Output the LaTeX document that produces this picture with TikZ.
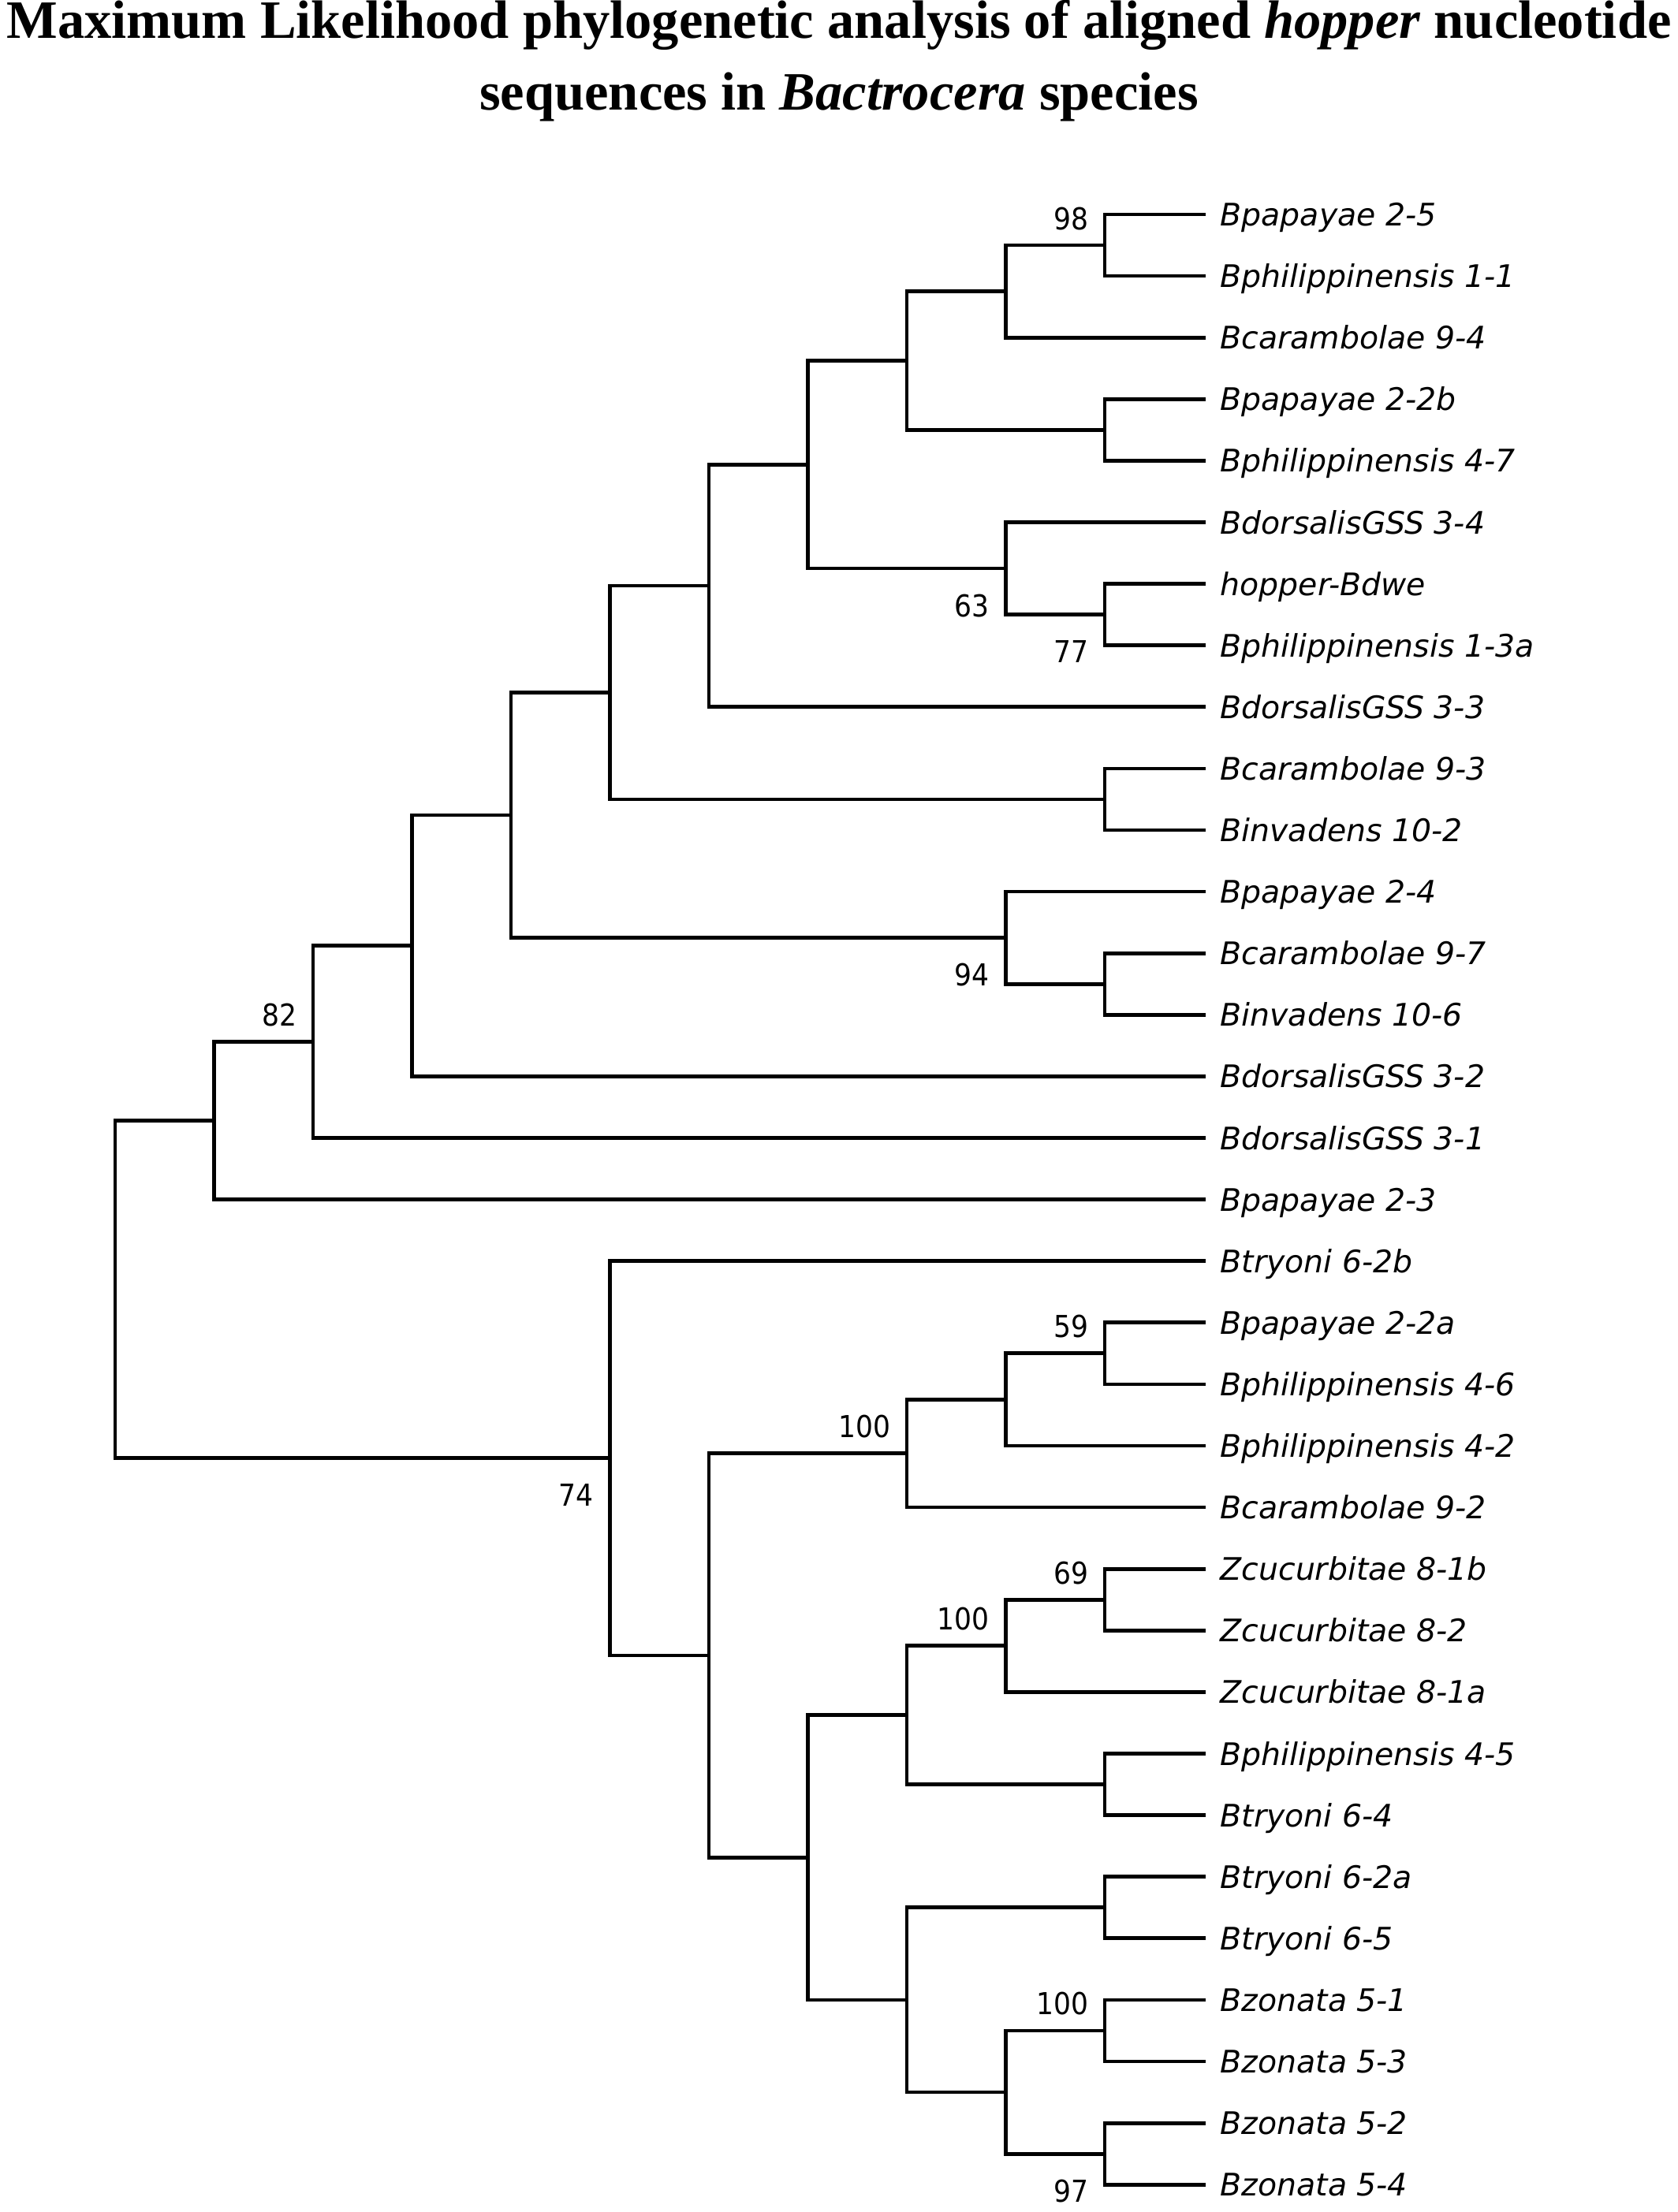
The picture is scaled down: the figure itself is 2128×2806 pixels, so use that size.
\documentclass[tikz,border=0pt]{standalone}
\usepackage{fontspec}
\setmainfont{Liberation Serif}
\newfontfamily\taxfont{DejaVu Sans}
\newfontfamily\bootfont[FakeStretch=0.9]{DejaVu Sans}
\usetikzlibrary{calc}

\begin{document}
\begin{tikzpicture}[x=0.01cm,y=-0.01cm,
    branch/.style={line width=1.35pt},
    taxon/.style={font=\taxfont\itshape\fontsize{11.2}{13}\selectfont,anchor=base west,inner sep=0pt},
    boot/.style={font=\bootfont\fontsize{10.9}{13}\selectfont,anchor=base east,inner sep=0pt},
    heading/.style={font=\bfseries\fontsize{19.48}{24}\selectfont,anchor=base,inner sep=0pt}]
  \useasboundingbox (0,0) rectangle (2128,2806);
  \node[heading] (head1) at (1064,49) {Maximum Likelihood phylogenetic analysis of aligned \textit{hopper} nucleotide};
  \node[heading] (head2) at (1064,140) {sequences in \textit{Bactrocera} species};

  % tips and taxon names
  \foreach \lab [count=\i] in {
    Bpapayae 2-5, Bphilippinensis 1-1, Bcarambolae 9-4, Bpapayae 2-2b,
    Bphilippinensis 4-7, BdorsalisGSS 3-4, hopper-Bdwe, Bphilippinensis 1-3a,
    BdorsalisGSS 3-3, Bcarambolae 9-3, Binvadens 10-2, Bpapayae 2-4,
    Bcarambolae 9-7, Binvadens 10-6, BdorsalisGSS 3-2, BdorsalisGSS 3-1,
    Bpapayae 2-3, Btryoni 6-2b, Bpapayae 2-2a, Bphilippinensis 4-6,
    Bphilippinensis 4-2, Bcarambolae 9-2, Zcucurbitae 8-1b, Zcucurbitae 8-2,
    Zcucurbitae 8-1a, Bphilippinensis 4-5, Btryoni 6-4, Btryoni 6-2a,
    Btryoni 6-5, Bzonata 5-1, Bzonata 5-3, Bzonata 5-2, Bzonata 5-4}{
    \coordinate (t\i) at (1529,{272+78.1*(\i-1)});
    \node[taxon] (lab\i) at ($(t\i)+(18,14.5)$) {\lab};
  }

  % internal nodes
  \coordinate (root) at (146,1635.7);
  \coordinate (cP) at (271.5,1421.6);
  \coordinate (cO) at (397,1321.6);
  \coordinate (cN) at (522.5,1199.75);
  \coordinate (cM) at (648,1034.1);
  \coordinate (cJ) at (773.5,878.5);
  \coordinate (cH) at (899,743.05);
  \coordinate (cG) at (1024.5,589.3);
  \coordinate (cD) at (1150,457.5);
  \coordinate (cB) at (1275.5,369.6);
  \coordinate (cA) at (1401,311.05);
  \coordinate (cC) at (1401,545.35);
  \coordinate (cF) at (1275.5,721.1);
  \coordinate (cE) at (1401,779.65);
  \coordinate (cI) at (1401,1013.95);
  \coordinate (cL) at (1275.5,1189.7);
  \coordinate (cK) at (1401,1248.25);
  \coordinate (cQ) at (773.5,1849.85);
  \coordinate (cR) at (899,2100);
  \coordinate (cS) at (1150,1843.75);
  \coordinate (cT) at (1275.5,1775.4);
  \coordinate (cU) at (1401,1716.85);
  \coordinate (cZ) at (1024.5,2356.3);
  \coordinate (cY) at (1150,2175.7);
  \coordinate (cW) at (1275.5,2087.8);
  \coordinate (cV) at (1401,2029.25);
  \coordinate (cX) at (1401,2263.55);
  \coordinate (cAA) at (1150,2536.9);
  \coordinate (cAB) at (1401,2419.75);
  \coordinate (cAC) at (1275.5,2654.05);
  \coordinate (cAD) at (1401,2575.95);
  \coordinate (cAE) at (1401,2732.15);

  % branches
  \foreach \p/\c in {root/cP, root/cQ, cP/cO, cP/t17, cO/cN, cO/t16,
      cN/cM, cN/t15, cM/cJ, cM/cL, cJ/cH, cJ/cI, cH/cG, cH/t9,
      cG/cD, cG/cF, cD/cB, cD/cC, cB/cA, cB/t3, cA/t1, cA/t2,
      cC/t4, cC/t5, cF/t6, cF/cE, cE/t7, cE/t8, cI/t10, cI/t11,
      cL/t12, cL/cK, cK/t13, cK/t14,
      cQ/t18, cQ/cR, cR/cS, cR/cZ, cS/cT, cS/t22, cT/cU, cT/t21,
      cU/t19, cU/t20, cZ/cY, cZ/cAA, cY/cW, cY/cX, cW/cV, cW/t25,
      cV/t23, cV/t24, cX/t26, cX/t27, cAA/cAB, cAA/cAC, cAB/t28, cAB/t29,
      cAC/cAD, cAC/cAE, cAD/t30, cAD/t31, cAE/t32, cAE/t33}
    \draw[branch] (\p) |- (\c);

  % bootstrap values (dy: -20 above the branch, 61 below it)
  \foreach \n/\v/\dy in {cA/98/-20, cE/77/61, cF/63/61, cL/94/61, cO/82/-20,
      cQ/74/61, cS/100/-20, cU/59/-20, cV/69/-20, cW/100/-20,
      cAD/100/-20, cAE/97/61}
    \node[boot] (bs\n) at ($(\n)+(-20,\dy)$) {\v};
\end{tikzpicture}
\end{document}
